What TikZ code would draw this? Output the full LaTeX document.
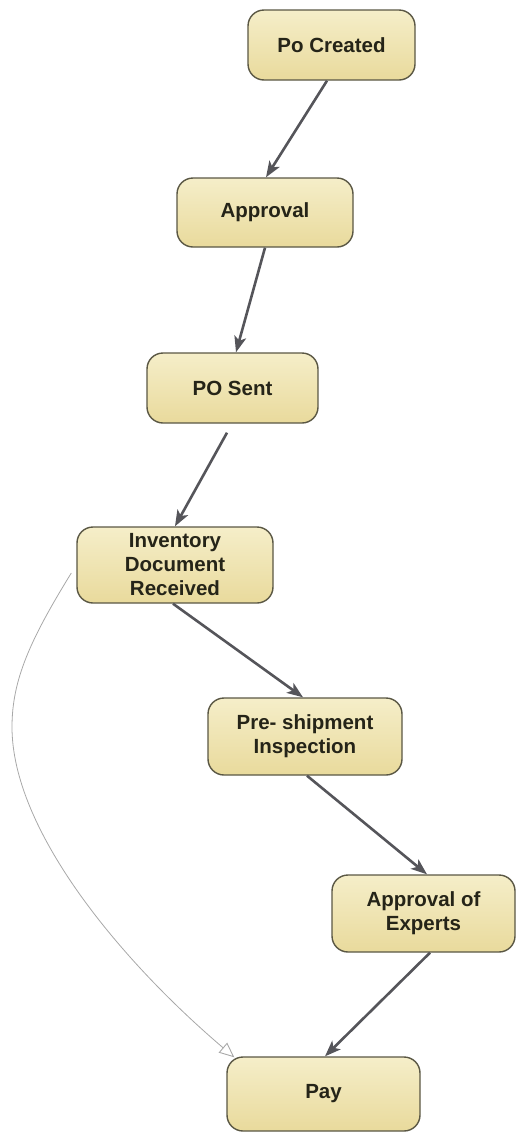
\documentclass[tikz,border=0pt]{standalone}
\usepackage{fontspec}
\setmainfont{Liberation Sans}
\usetikzlibrary{arrows.meta,calc}

\definecolor{boxtop}{HTML}{F5EEC9}
\definecolor{boxbot}{HTML}{E9DA9C}
\definecolor{boxline}{HTML}{5A5744}
\definecolor{boxtext}{HTML}{252418}
\definecolor{flowline}{HTML}{55555A}
\definecolor{skipline}{HTML}{A8A8A8}

\tikzset{
  stepbox/.style={draw=boxline, line width=1.4pt, rounded corners=16pt,
    top color=boxtop, bottom color=boxbot, text=boxtext, align=center,
    font=\fontsize{20.5}{24}\selectfont\bfseries, inner sep=0pt},
  flow/.style={draw=flowline, line width=2.6pt,
    -{Stealth[length=16pt,width=12pt,inset=4pt]}},
  skip/.style={draw=skipline, line width=0.8pt,
    -{Triangle[open,length=15pt,width=13pt,line width=0.9pt]}}
}

\begin{document}
\begin{tikzpicture}[x=1pt,y=-1pt]
  \useasboundingbox (0,0) rectangle (516,1133);

  % process steps
  \node[stepbox, minimum width=167pt, minimum height=70pt] (po)  at (331.5,45)   {Po Created};
  \node[stepbox, minimum width=176pt, minimum height=69pt] (apr) at (265,212.5)  {Approval};
  \node[stepbox, minimum width=171pt, minimum height=70pt] (snt) at (232.5,388)  {PO Sent};
  \node[stepbox, minimum width=196pt, minimum height=76pt] (inv) at (175,565)    {Inventory\\Document\\Received};
  \node[stepbox, minimum width=194pt, minimum height=77pt] (pre) at (305,736.5)  {Pre- shipment\\Inspection};
  \node[stepbox, minimum width=183pt, minimum height=77pt] (exp) at (423.5,913.5){Approval of\\Experts};
  \node[stepbox, minimum width=193pt, minimum height=74pt] (pay) at (323.5,1094) {Pay};

  % main flow
  \draw[flow] ($(po.south)+(-4.5,0)$)  -- ($(apr.north)+(1,0)$);
  \draw[flow] ($(apr.south)+(0,0)$)    -- ($(snt.north)+(3.5,0)$);
  \draw[flow] ($(snt.south)+(-5.5,9)$) -- ($(inv.north)+(0,0)$);
  \draw[flow] ($(inv.south)+(-2,0)$)   -- ($(pre.north)+(-2,0)$);
  \draw[flow] ($(pre.south)+(2,0)$)    -- ($(exp.north)+(3.5,0)$);
  \draw[flow] ($(exp.south)+(6.5,0)$)  -- ($(pay.north)+(1.5,0)$);

  % direct path from the received documents to payment
  \coordinate (bend) at (12,727);
  \draw[skip] ($(inv.west)+(-5,8)$) .. controls (30,640) and (12,680) .. (bend)
              .. controls (12,830) and (120,960) .. ($(pay.north west)+(8,1)$);
\end{tikzpicture}
\end{document}
